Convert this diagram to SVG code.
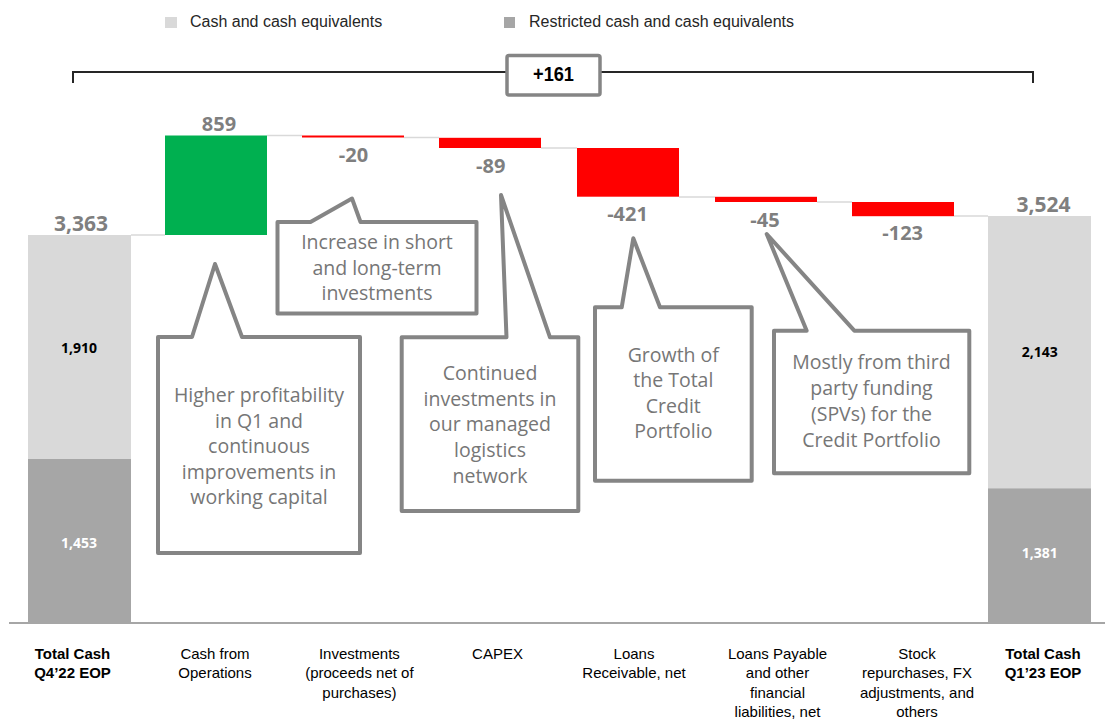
<svg xmlns="http://www.w3.org/2000/svg" width="1105" height="719" viewBox="0 0 1105 719">
<style>
.leg{font-family:"Liberation Sans",Arial,sans-serif;font-size:16px;fill:#262626}
.val{font-family:"Open Sans","Liberation Sans",sans-serif;font-weight:700;font-size:20px;fill:#7f7f7f;text-anchor:middle}
.tot{font-size:21px}
.in{font-family:"Open Sans","Liberation Sans",sans-serif;font-weight:700;font-size:14px;text-anchor:middle}
.cat{font-family:"Liberation Sans",Arial,sans-serif;font-size:15px;fill:#000;text-anchor:middle}
.b{font-weight:700}
.co{fill:#fff;stroke:#858585;stroke-width:4;stroke-linejoin:round}
.cot{font-family:"Open Sans","Liberation Sans",sans-serif;font-size:19.5px;fill:#767676;text-anchor:middle}
.lt{fill:#d9d9d9}.dk{fill:#a6a6a6}.up{fill:#00b050}.dn{fill:#ff0000}
.conn{stroke:#d9d9d9;stroke-width:1.5;fill:none}
</style>
<rect width="1105" height="719" fill="#fff"/>

<g id="legend">
<rect class="lt" x="165" y="17" width="12" height="11"/>
<text class="leg" x="190" y="26.5">Cash and cash equivalents</text>
<rect class="dk" x="504" y="17" width="11" height="11"/>
<text class="leg" x="529" y="26.5">Restricted cash and cash equivalents</text>
</g>

<g id="total-change">
<path d="M73,83 V72 H1033 V83" fill="none" stroke="#262626" stroke-width="2"/>
<rect x="507" y="55.5" width="93" height="39.5" rx="2" fill="#fff" stroke="#858585" stroke-width="3.5"/>
<text x="553.5" y="81" font-family="Liberation Sans,Arial,sans-serif" font-weight="700" font-size="21" text-anchor="middle" textLength="41" lengthAdjust="spacingAndGlyphs" fill="#000">+161</text>
</g>

<g id="connectors">
<line class="conn" x1="131" y1="235" x2="165" y2="235"/>
<line class="conn" x1="267" y1="135.5" x2="302" y2="135.5"/>
<line class="conn" x1="404" y1="137.5" x2="439" y2="137.5"/>
<line class="conn" x1="541" y1="148" x2="577" y2="148"/>
<line class="conn" x1="679" y1="197" x2="715" y2="197"/>
<line class="conn" x1="817" y1="202" x2="852" y2="202"/>
<line class="conn" x1="954" y1="216" x2="988" y2="216"/>
</g>

<g id="bar-q4-22">
<rect class="lt" x="28" y="235" width="103" height="224"/>
<rect class="dk" x="28" y="459" width="103" height="164"/>
<text class="val tot" x="81" y="231">3,363</text>
<text class="in" x="79" y="352.5" fill="#000">1,910</text>
<text class="in" x="79" y="547.5" fill="#fff">1,453</text>
</g>

<g id="bar-operations">
<rect class="up" x="165" y="135.5" width="102" height="99.5"/>
<text class="val" x="219" y="131.3">859</text>
</g>

<g id="bar-investments">
<rect class="dn" x="302" y="135.5" width="102" height="2"/>
<text class="val" x="353.5" y="162">-20</text>
</g>

<g id="bar-capex">
<rect class="dn" x="439" y="137.8" width="102" height="10.2"/>
<text class="val" x="490.7" y="172.7">-89</text>
</g>

<g id="bar-loans-receivable">
<rect class="dn" x="577" y="148" width="102" height="48.7"/>
<text class="val" x="627.5" y="221">-421</text>
</g>

<g id="bar-loans-payable">
<rect class="dn" x="715" y="196.8" width="102" height="5.2"/>
<text class="val" x="765" y="226.7">-45</text>
</g>

<g id="bar-stock">
<rect class="dn" x="852" y="202" width="102" height="14.2"/>
<text class="val" x="902.7" y="240">-123</text>
</g>

<g id="bar-q1-23">
<rect class="lt" x="988" y="216" width="103" height="272.3"/>
<rect class="dk" x="988" y="488.3" width="103" height="134.7"/>
<text class="val tot" x="1043.6" y="212">3,524</text>
<text class="in" x="1039.7" y="357.3" fill="#000">2,143</text>
<text class="in" x="1039.7" y="558" fill="#fff">1,381</text>
</g>

<g id="axis">
<line x1="9" y1="623" x2="1105" y2="623" stroke="#a6a6a6" stroke-width="2"/>
</g>

<g id="categories">
<text class="cat b" x="72.5" y="658.5">Total Cash</text>
<text class="cat b" x="72.5" y="678">Q4’22 EOP</text>
<text class="cat" x="215" y="658.5">Cash from</text>
<text class="cat" x="215" y="678">Operations</text>
<text class="cat" x="359.4" y="658.5">Investments</text>
<text class="cat" x="359.4" y="678">(proceeds net of</text>
<text class="cat" x="359.4" y="697.5">purchases)</text>
<text class="cat" x="497.5" y="658.5">CAPEX</text>
<text class="cat" x="634" y="658.5">Loans</text>
<text class="cat" x="634" y="678">Receivable, net</text>
<text class="cat" x="777.5" y="658.5">Loans Payable</text>
<text class="cat" x="777.5" y="678">and other</text>
<text class="cat" x="777.5" y="697.5">financial</text>
<text class="cat" x="777.5" y="717">liabilities, net</text>
<text class="cat" x="917" y="658.5">Stock</text>
<text class="cat" x="917" y="678">repurchases, FX</text>
<text class="cat" x="917" y="697.5">adjustments, and</text>
<text class="cat" x="917" y="717">others</text>
<text class="cat b" x="1043" y="658.5">Total Cash</text>
<text class="cat b" x="1043" y="678">Q1’23 EOP</text>
</g>

<g id="callout-operations">
<path class="co" d="M158,337 H192 L215,264 L242,337 H360 V553 H158 Z"/>
<text class="cot" x="259" y="402">Higher profitability</text>
<text class="cot" x="259" y="427.5">in Q1 and</text>
<text class="cot" x="259" y="453">continuous</text>
<text class="cot" x="259" y="478.5">improvements in</text>
<text class="cot" x="259" y="504">working capital</text>
</g>

<g id="callout-investments">
<path class="co" d="M277.5,222 H310.5 L352,198.5 L360.5,222 H476.5 V313.5 H277.5 Z"/>
<text class="cot" x="377" y="249.3">Increase in short</text>
<text class="cot" x="377" y="275">and long-term</text>
<text class="cot" x="377" y="300">investments</text>
</g>

<g id="callout-capex">
<path class="co" d="M401.7,337.3 H506.5 L501,195 L550,337.3 H578.3 V511 H401.7 Z"/>
<text class="cot" x="490" y="380">Continued</text>
<text class="cot" x="490" y="406">investments in</text>
<text class="cot" x="490" y="431">our managed</text>
<text class="cot" x="490" y="456.7">logistics</text>
<text class="cot" x="490" y="482.7">network</text>
</g>

<g id="callout-loans-receivable">
<path class="co" d="M595,307.3 H621.7 L633.3,238.3 L660,307.3 H751.7 V480.7 H595 Z"/>
<text class="cot" x="673.3" y="361.7">Growth of</text>
<text class="cot" x="673.3" y="387.3">the Total</text>
<text class="cot" x="673.3" y="412.5">Credit</text>
<text class="cot" x="673.3" y="438.3">Portfolio</text>
</g>

<g id="callout-loans-payable">
<path class="co" d="M774,330.7 H806.7 L766.7,234 L854.3,330.7 H969.3 V473.3 H774 Z"/>
<text class="cot" x="871.5" y="369.3">Mostly from third</text>
<text class="cot" x="871.5" y="395">party funding</text>
<text class="cot" x="871.5" y="420.7">(SPVs) for the</text>
<text class="cot" x="871.5" y="446.7">Credit Portfolio</text>
</g>
</svg>
